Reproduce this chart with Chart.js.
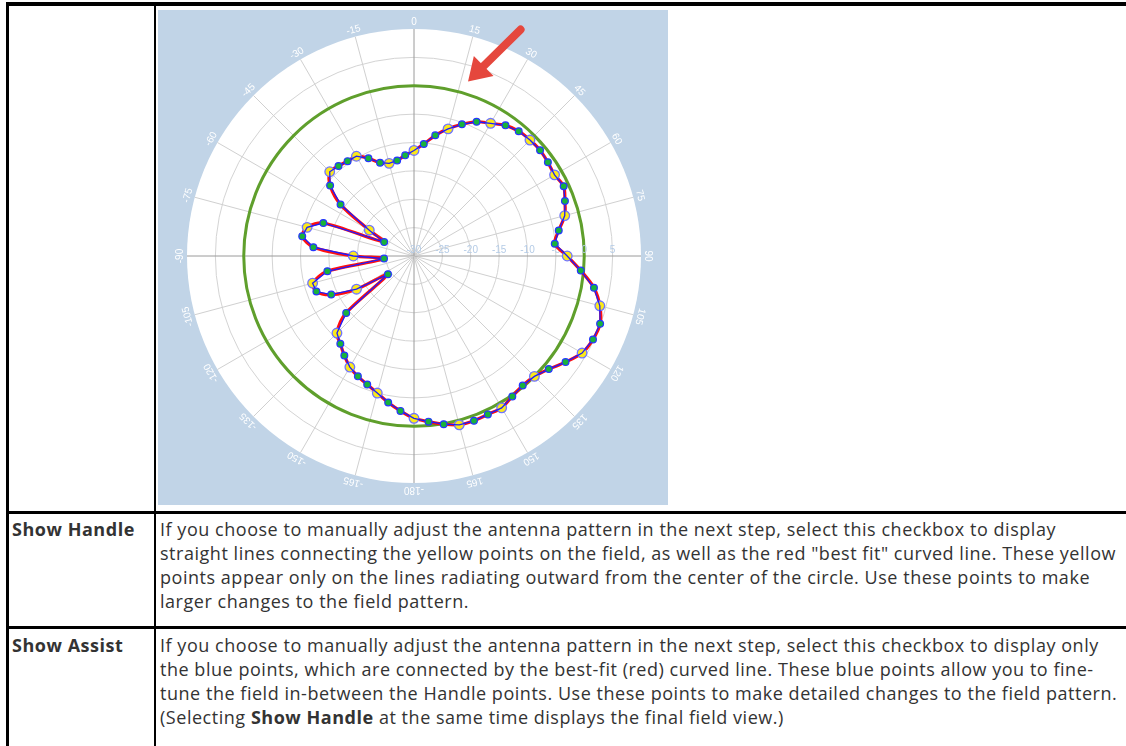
<!DOCTYPE html>
<html>
<head>
<meta charset="utf-8">
<title>Antenna field pattern</title>
<script src="https://cdn.jsdelivr.net/npm/chart.js@4.4.1/dist/chart.umd.min.js"></script>
<style>
  html, body { margin: 0; padding: 0; background: #fff; overflow: hidden; }
  body { width: 1126px; height: 746px; position: relative; font-family: "Open Sans", Lato, sans-serif; color: #333; }
  .rule { position: absolute; background: #000; }
  .cell { position: absolute; font-size: 18px; line-height: 24px; white-space: nowrap; }
  .term { font-weight: bold; }
  #plot { position: absolute; left: 158px; top: 10px; width: 510px; height: 495px; background: #c1d4e7; }
</style>
</head>
<body>
<div class="rule" style="left:6px;top:2px;width:1200px;height:4px"></div>
<div class="rule" style="left:6px;top:2px;width:3px;height:760px"></div>
<div class="rule" style="left:154px;top:6px;width:2px;height:760px"></div>
<div class="rule" style="left:6px;top:511px;width:1200px;height:3px"></div>
<div class="rule" style="left:6px;top:626px;width:1200px;height:3px"></div>

<div id="plot"><canvas id="pattern" width="510" height="495"></canvas></div>

<div class="cell term" style="left:12px;top:517px">Show Handle</div>
<div class="cell" style="left:160px;top:517px">
<span id="probe">If you choose to manually adjust the antenna pattern in the next step, select this checkbox to display</span><br>
straight lines connecting the yellow points on the field, as well as the red "best fit" curved line. These yellow<br>
points appear only on the lines radiating outward from the center of the circle. Use these points to make<br>
larger changes to the field pattern.
</div>
<div class="cell term" style="left:12px;top:633px">Show Assist</div>
<div class="cell" style="left:160px;top:633px">
If you choose to manually adjust the antenna pattern in the next step, select this checkbox to display only<br>
the blue points, which are connected by the best-fit (red) curved line. These blue points allow you to fine-<br>
tune the field in-between the Handle points. Use these points to make detailed changes to the field pattern.<br>
(Selecting <b>Show Handle</b> at the same time displays the final field view.)
</div>

<script>
// bearing of every sample, degrees clockwise from north
const bearings = [
  0, 5, 10, 15, 20, 25, 30, 35, 40, 45, 50, 55,
  60, 65, 70, 75, 80, 85, 90, 95, 100, 105, 110, 115,
  120, 125, 130, 135, 140, 145, 150, 155, 160, 165, 170, 175,
  180, 185, 190, 195, 200, 205, 210, 215, 220, 225, 230, 235,
  240, 245, 250, 255, 260, 265, 270, 275, 280, 285, 290, 295,
  300, 305, 310, 315, 320, 325, 330, 335, 340, 345, 350, 355
];

// field strength at each bearing, dB
const gainDb = [
  -11.4, -10.2, -8.4, -6.8, -5.3, -3.9, -3.0, -1.9, -1.3, -1.1, -1.0, -1.2,
  -1.4, -0.9, -1.7, -2.5, -4.1, -5.1, -3.0, -0.5, 2.2, 3.9, 4.9, 4.8,
  4.2, 2.6, 1.0, 0.0, -0.2, 0.2, 0.9, 0.8, 0.9, 0.8, 0.1, -0.7,
  -1.4, -2.6, -3.8, -5.0, -5.9, -6.6, -7.4, -8.6, -9.8, -10.8, -14.4, -24.4,
  -18.3, -13.9, -11.7, -11.5, -14.5, -24.7, -19.3, -12.2, -10.0, -10.5, -13.0, -24.2,
  -20.9, -14.2, -10.7, -9.0, -9.3, -9.6, -9.7, -11.0, -12.5, -13.1, -12.9, -12.2
];

const bearingLabels = ['0', '15', '30', '45', '60', '75', '90', '105', '120', '135', '150', '165',
  '-180', '-165', '-150', '-135', '-120', '-105', '-90', '-75', '-60', '-45', '-30', '-15'];
const ringLabels = ['-30', '-25', '-20', '-15', '-10', '-5', '0', '5'];

const referenceDb = 0;
// callout arrow, [bearing, dB] for its tail and its tip
const callout = { tail: [25.2, 14.1], tip: [17.2, 2.2] };

const isHandle = i => bearings[i] % 15 === 0;
const axisSpoke = i => bearings[i] % 90 === 0;

function polarXY(s, deg, db) {
  const d = s.getDistanceFromCenterForValue(db);
  const a = deg * Math.PI / 180;
  return { x: s.xCenter + d * Math.sin(a), y: s.yCenter - d * Math.cos(a) };
}

const polarDecor = {
  id: 'polarDecor',
  beforeDatasetsDraw(chart) {
    const s = chart.scales.r, c = chart.ctx;
    c.save();
    // reference level ring
    c.beginPath();
    c.arc(s.xCenter, s.yCenter, s.getDistanceFromCenterForValue(referenceDb), 0, Math.PI * 2);
    c.strokeStyle = '#5f9f2c';
    c.lineWidth = 3;
    c.stroke();

    // ring values along the 90 degree spoke
    c.font = '10px "Liberation Sans", Arial, sans-serif';
    c.fillStyle = '#b4cbe6';
    c.textAlign = 'center';
    c.textBaseline = 'alphabetic';
    ringLabels.forEach(t => {
      const d = s.getDistanceFromCenterForValue(Number(t));
      c.fillText(t, s.xCenter + d, s.yCenter - 3);
    });

    // bearings round the rim, turned to follow it
    c.fillStyle = '#ffffff';
    c.textBaseline = 'middle';
    const rim = s.drawingArea + 7;
    bearingLabels.forEach(t => {
      const i = bearings.indexOf((Number(t) + 360) % 360);
      const p = s.getPointPosition(i, rim);
      c.save();
      c.translate(p.x, p.y);
      c.rotate(s.getIndexAngle(i));
      c.fillText(t, 0, 0);
      c.restore();
    });
    c.restore();
  },
  afterDatasetsDraw(chart) {
    const s = chart.scales.r, c = chart.ctx;
    const a = polarXY(s, callout.tail[0], callout.tail[1]);
    const b = polarXY(s, callout.tip[0], callout.tip[1]);
    const len = Math.hypot(b.x - a.x, b.y - a.y);
    const ux = (b.x - a.x) / len, uy = (b.y - a.y) / len;
    const head = 22, half = 14;
    const bx = b.x - ux * head, by = b.y - uy * head;
    c.save();
    c.strokeStyle = c.fillStyle = '#e5473d';
    c.lineWidth = 8;
    c.lineCap = 'round';
    c.beginPath();
    c.moveTo(a.x, a.y);
    c.lineTo(bx + ux * 2, by + uy * 2);
    c.stroke();
    c.beginPath();
    c.moveTo(b.x, b.y);
    c.lineTo(bx - uy * half, by + ux * half);
    c.lineTo(bx + uy * half, by - ux * half);
    c.closePath();
    c.fill();
    c.restore();
  }
};

new Chart(document.getElementById('pattern'), {
  type: 'radar',
  data: {
    labels: bearings,
    datasets: [
      {
        label: 'Best fit',
        data: gainDb,
        borderColor: '#ff1010',
        borderWidth: 3.2,
        tension: 0.3,
        fill: false,
        pointRadius: 0,
        order: 3
      },
      {
        label: 'Handle',
        data: gainDb,
        showLine: false,
        fill: false,
        pointRadius: ctx => isHandle(ctx.dataIndex) ? 4.8 : 0,
        pointBackgroundColor: '#fbe91a',
        pointBorderColor: '#6f74ff',
        pointBorderWidth: 1.3,
        order: 2
      },
      {
        label: 'Assist',
        data: gainDb,
        borderColor: '#1c1cff',
        borderWidth: 1.3,
        tension: 0,
        fill: false,
        pointRadius: ctx => isHandle(ctx.dataIndex) ? 0 : 3.4,
        pointBackgroundColor: '#19b23c',
        pointBorderColor: '#2535ff',
        pointBorderWidth: 1.2,
        order: 1
      }
    ]
  },
  options: {
    responsive: false,
    animation: false,
    devicePixelRatio: 1,
    layout: { padding: { left: 29, right: 27, top: 19, bottom: 22 } },
    plugins: { legend: { display: false }, tooltip: { enabled: false } },
    scales: {
      r: {
        min: -30,
        max: 10,
        startAngle: 0,
        backgroundColor: '#ffffff',
        ticks: { display: false, stepSize: 5 },
        pointLabels: { display: false },
        grid: {
          circular: true,
          lineWidth: 1,
          color: ctx => ctx.tick && ctx.tick.value >= 10 ? 'rgba(0,0,0,0)' : '#d4d4d4'
        },
        angleLines: {
          lineWidth: 1,
          color: ctx => axisSpoke(ctx.index) ? '#9a9a9a' : (isHandle(ctx.index) ? '#d0d0d0' : 'rgba(0,0,0,0)')
        }
      }
    }
  },
  plugins: [polarDecor]
});

// stretch the body copy so the first line of the table spans its column
function fitCopy() {
  const probe = document.getElementById('probe');
  document.querySelectorAll('.cell').forEach(el => el.style.letterSpacing = '0px');
  const w = probe.getBoundingClientRect().width;
  const ls = (896 - w) / probe.textContent.length;
  document.querySelectorAll('.cell').forEach(el => el.style.letterSpacing = ls.toFixed(3) + 'px');
}
fitCopy();
document.fonts.ready.then(fitCopy);
</script>
</body>
</html>
